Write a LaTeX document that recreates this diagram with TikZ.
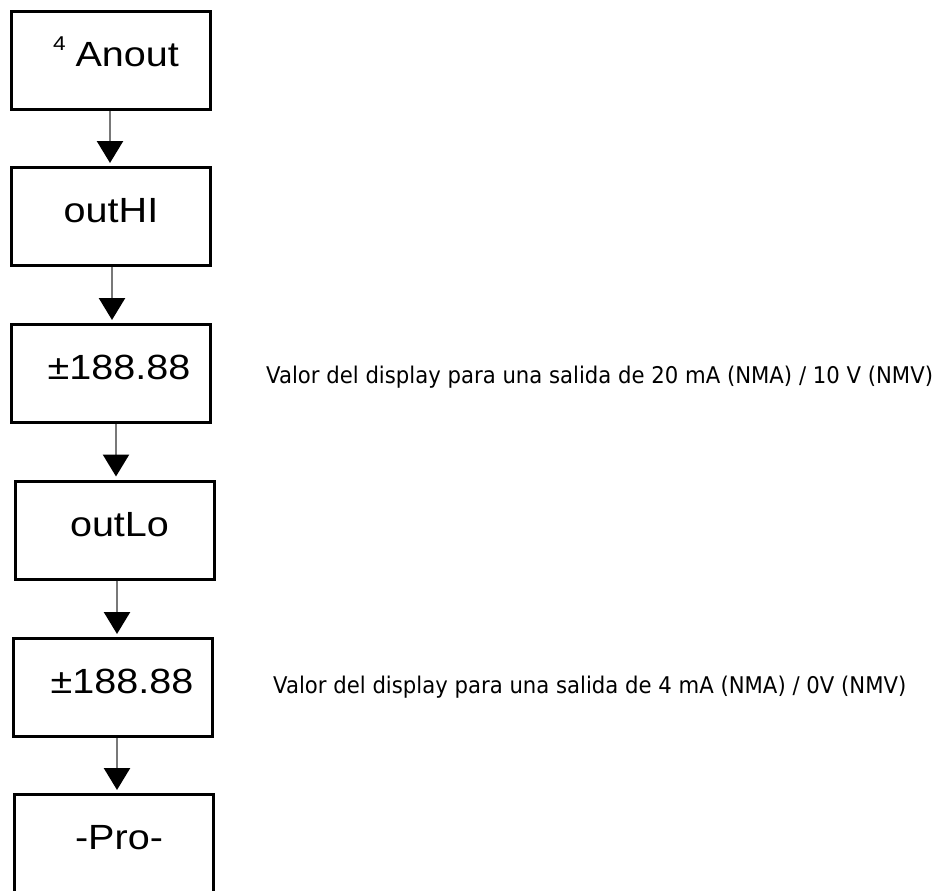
\documentclass[tikz,border=0pt]{standalone}
\usepackage{fontspec}
\setmainfont{Liberation Sans}
\newfontfamily\boxfont[FakeStretch=1.13]{Liberation Sans}
\newfontfamily\notefont[FakeStretch=0.922]{DejaVu Sans}
\usetikzlibrary{arrows.meta}
\definecolor{shaft}{RGB}{120,120,120}
\tikzset{
  dispbox/.style={draw=black, line width=3pt, minimum width=199pt, minimum height=98pt,
    inner sep=0pt, text height=12pt, text depth=0pt,
    font=\boxfont\fontsize{35}{35}\selectfont},
  flowarrow/.style={draw=shaft, line width=2.5pt, shorten >=3pt,
    -{Triangle[width=26pt,length=22pt,color=black]}},
  note/.style={anchor=base west, inner sep=0pt, font=\notefont\fontsize{23}{23}\selectfont}
}
\begin{document}
\begin{tikzpicture}[x=1pt,y=-1pt]
\useasboundingbox (0,0) rectangle (943,891);
\clip (0,0) rectangle (943,891);
\fill[white] (0,0) rectangle (943,891);
\node[dispbox] (b1) at (111,60.5) {\hspace{10pt}\raisebox{16pt}{\fontsize{20}{20}\selectfont 4}\hspace{10pt}Anout};
\node[dispbox] (b2) at (111,216.5) {outHI};
\node[dispbox] (b3) at (111,373.5) {\hspace{16pt}±188.88};
\node[dispbox] (b4) at (114.5,530) {\hspace{10pt}outLo};
\node[dispbox] (b5) at (113,687.5) {\hspace{18pt}±188.88};
\node[dispbox] (b6) at (114,843.5) {\hspace{10pt}-Pro-};
\draw[flowarrow] ([xshift=-1pt]b1.south) -- ([xshift=-1pt]b1.south |- b2.north);
\draw[flowarrow] ([xshift=1pt]b2.south) -- ([xshift=1pt]b2.south |- b3.north);
\draw[flowarrow] ([xshift=5pt]b3.south) -- ([xshift=5pt]b3.south |- b4.north);
\draw[flowarrow] ([xshift=2.5pt]b4.south) -- ([xshift=2.5pt]b4.south |- b5.north);
\draw[flowarrow] ([xshift=4pt]b5.south) -- ([xshift=4pt]b5.south |- b6.north);
\node[note] (n1) at (266,383) {Valor del display para una salida de 20 mA (NMA) / 10 V (NMV)};
\node[note] (n2) at (273,693) {Valor del display para una salida de 4 mA (NMA) / 0V (NMV)};
\end{tikzpicture}
\end{document}
